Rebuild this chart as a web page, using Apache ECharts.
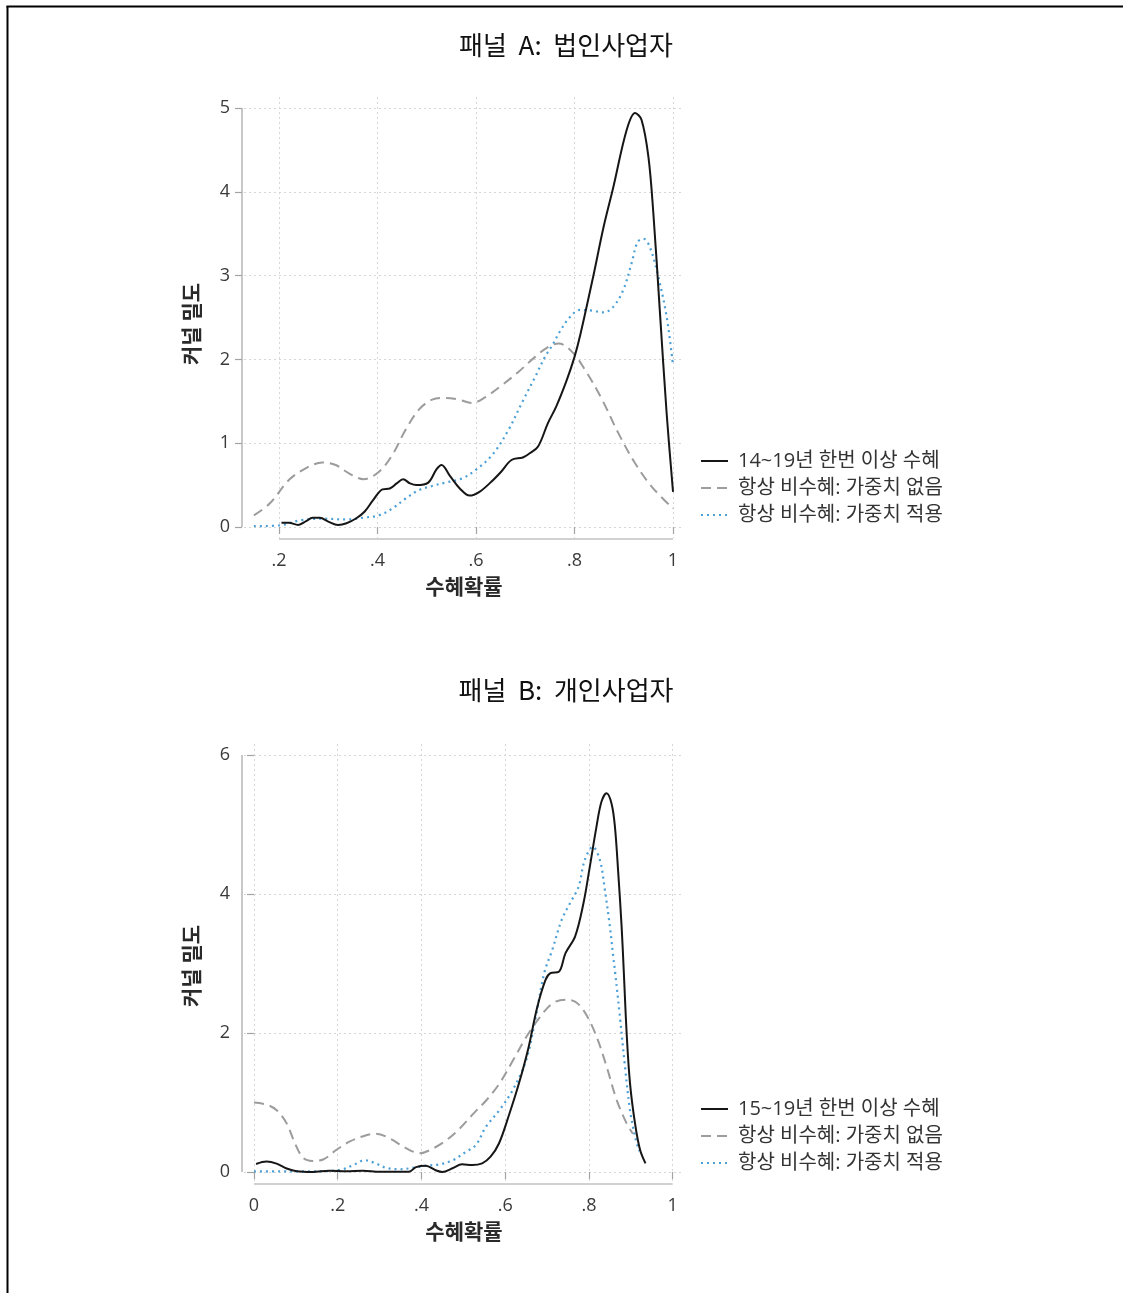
<!DOCTYPE html>
<html>
<head>
<meta charset="utf-8">
<script src="https://cdn.jsdelivr.net/npm/echarts@6/dist/echarts.min.js"></script>
<style>
  html, body { margin: 0; padding: 0; background: #fff; }
  #chart { width: 1123px; height: 1293px; }
</style>
</head>
<body>
<div id="chart"></div>
<script>
// ---- Panel A: 법인사업자 (kernel densities of the propensity score) ----
const titleA = '패널  A:  법인사업자';
const namesA = ['14~19년 한번 이상 수혜', '항상 비수혜: 가중치 없음', '항상 비수혜: 가중치 적용'];
const xTicksA = [0.2, 0.4, 0.6, 0.8, 1];
const xTickLabelsA = ['.2', '.4', '.6', '.8', '1'];
const yTicksA = [0, 1, 2, 3, 4, 5];

const treatedA = [
  [0.205, 0.05], [0.22, 0.05], [0.239, 0.025], [0.255, 0.07], [0.268, 0.11], [0.283, 0.11],
  [0.30, 0.065], [0.32, 0.025], [0.337, 0.045], [0.357, 0.105], [0.374, 0.185], [0.391, 0.32],
  [0.41, 0.45], [0.425, 0.46], [0.439, 0.52], [0.452, 0.57], [0.466, 0.52], [0.479, 0.50],
  [0.503, 0.53], [0.52, 0.69], [0.53, 0.74], [0.547, 0.61], [0.567, 0.46], [0.587, 0.375],
  [0.607, 0.42], [0.631, 0.54], [0.651, 0.66], [0.672, 0.80], [0.695, 0.83], [0.709, 0.88],
  [0.726, 0.96], [0.746, 1.24], [0.763, 1.44], [0.784, 1.75], [0.80, 2.03], [0.812, 2.30],
  [0.838, 2.99], [0.859, 3.58], [0.879, 4.06], [0.906, 4.74], [0.923, 4.94], [0.936, 4.86],
  [0.95, 4.42], [0.96, 3.75], [0.973, 2.60], [0.987, 1.36], [1.0, 0.42]
];
const unweightedA = [
  [0.149, 0.14], [0.181, 0.28], [0.22, 0.56], [0.254, 0.70], [0.288, 0.77], [0.315, 0.74],
  [0.342, 0.64], [0.372, 0.57], [0.403, 0.66], [0.43, 0.86], [0.457, 1.16], [0.484, 1.40],
  [0.511, 1.52], [0.538, 1.54], [0.565, 1.52], [0.592, 1.48], [0.619, 1.55], [0.652, 1.69],
  [0.686, 1.85], [0.72, 2.03], [0.747, 2.15], [0.768, 2.19], [0.795, 2.09], [0.822, 1.87],
  [0.856, 1.52], [0.889, 1.12], [0.923, 0.76], [0.957, 0.48], [1.0, 0.22]
];
const weightedA = [
  [0.149, 0.01], [0.202, 0.02], [0.243, 0.08], [0.288, 0.10], [0.335, 0.09], [0.376, 0.115],
  [0.403, 0.14], [0.43, 0.22], [0.457, 0.34], [0.484, 0.44], [0.511, 0.49], [0.538, 0.53],
  [0.572, 0.58], [0.599, 0.68], [0.633, 0.86], [0.666, 1.16], [0.693, 1.48], [0.72, 1.79],
  [0.74, 2.03], [0.755, 2.17], [0.77, 2.33], [0.79, 2.50], [0.811, 2.59], [0.838, 2.58],
  [0.859, 2.56], [0.879, 2.63], [0.899, 2.83], [0.916, 3.15], [0.928, 3.40], [0.94, 3.44],
  [0.953, 3.34], [0.97, 2.99], [0.987, 2.51], [1.0, 1.93]
];

// ---- Panel B: 개인사업자 ----
const titleB = '패널  B:  개인사업자';
const namesB = ['15~19년 한번 이상 수혜', '항상 비수혜: 가중치 없음', '항상 비수혜: 가중치 적용'];
const xTicksB = [0, 0.2, 0.4, 0.6, 0.8, 1];
const xTickLabelsB = ['0', '.2', '.4', '.6', '.8', '1'];
const yTicksB = [0, 2, 4, 6];

const treatedB = [
  [0.005, 0.115], [0.03, 0.15], [0.054, 0.12], [0.078, 0.05], [0.102, 0.01], [0.14, 0.0],
  [0.18, 0.02], [0.22, 0.01], [0.26, 0.02], [0.30, 0.005], [0.37, 0.005], [0.387, 0.07],
  [0.41, 0.09], [0.434, 0.025], [0.45, 0.0], [0.474, 0.055], [0.497, 0.11], [0.521, 0.10],
  [0.545, 0.125], [0.565, 0.22], [0.585, 0.41], [0.609, 0.82], [0.633, 1.28], [0.656, 1.80],
  [0.676, 2.36], [0.696, 2.76], [0.708, 2.86], [0.728, 2.88], [0.744, 3.15], [0.767, 3.39],
  [0.787, 3.87], [0.802, 4.39], [0.818, 4.97], [0.83, 5.33], [0.842, 5.45], [0.854, 5.30],
  [0.862, 4.97], [0.87, 4.30], [0.878, 3.53], [0.883, 2.91], [0.89, 2.0], [0.898, 1.28],
  [0.91, 0.70], [0.922, 0.32], [0.935, 0.125]
];
const unweightedB = [
  [0.0, 1.0], [0.03, 0.97], [0.054, 0.89], [0.078, 0.70], [0.098, 0.41], [0.118, 0.20],
  [0.14, 0.16], [0.165, 0.18], [0.197, 0.32], [0.229, 0.44], [0.268, 0.53], [0.292, 0.55],
  [0.325, 0.48], [0.364, 0.34], [0.396, 0.27], [0.428, 0.34], [0.46, 0.46], [0.492, 0.63],
  [0.524, 0.84], [0.556, 1.04], [0.587, 1.28], [0.619, 1.61], [0.651, 1.95], [0.683, 2.23],
  [0.714, 2.43], [0.746, 2.48], [0.77, 2.44], [0.794, 2.26], [0.818, 1.95], [0.842, 1.52],
  [0.866, 1.04], [0.89, 0.70], [0.905, 0.55]
];
const weightedB = [
  [0.0, 0.01], [0.062, 0.01], [0.14, 0.01], [0.205, 0.03], [0.237, 0.10], [0.265, 0.17],
  [0.292, 0.12], [0.316, 0.06], [0.348, 0.04], [0.38, 0.06], [0.41, 0.09], [0.443, 0.11],
  [0.475, 0.17], [0.506, 0.29], [0.53, 0.39], [0.554, 0.65], [0.586, 0.89], [0.618, 1.18],
  [0.65, 1.61], [0.673, 2.23], [0.693, 2.86], [0.712, 3.19], [0.735, 3.63], [0.755, 3.87],
  [0.775, 4.10], [0.79, 4.49], [0.809, 4.68], [0.826, 4.49], [0.838, 4.06], [0.85, 3.53],
  [0.858, 3.10], [0.862, 2.90], [0.874, 2.23], [0.886, 1.52], [0.898, 0.89], [0.91, 0.51],
  [0.92, 0.30]
];

const yTitle = '커널 밀도';
const xTitle = '수혜확률';

// ---- styling / layout ----
const FONT = "'Open Sans', 'Noto Sans CJK KR', sans-serif";
const KFONT = "'Noto Sans CJK KR', sans-serif";
const AXIS_GRAY = '#a3a3a3';
const GRID_GRAY = '#d6d6d6';
const STYLES = [
  { color: '#161616', type: 'solid', width: 2 },
  { color: '#9c9c9c', type: [10, 6], width: 2 },
  { color: '#4a9fd6', type: [2, 4], width: 2.2 }
];

const panels = [
  {
    title: titleA, titleY: 45, names: namesA, series: [treatedA, unweightedA, weightedA],
    grid: { left: 244, top: 97, width: 440, height: 441 },
    xRange: [0.1289, 1.0223], yRange: [-0.131, 5.131],
    xTicks: xTicksA, xLabels: xTickLabelsA, yTicks: yTicksA,
    yTitleY: 324, legendTop: 451
  },
  {
    title: titleB, titleY: 690, names: namesB, series: [treatedB, unweightedB, weightedB],
    grid: { left: 244, top: 744, width: 440, height: 439 },
    xRange: [-0.0239, 1.027], yRange: [-0.158, 6.158],
    xTicks: xTicksB, xLabels: xTickLabelsB, yTicks: yTicksB,
    yTitleY: 966, legendTop: 1099
  }
];

const chart = echarts.init(document.getElementById('chart'), null, { renderer: 'canvas' });

const grids = [], xAxes = [], yAxes = [], series = [], legends = [], graphics = [];

panels.forEach((p, i) => {
  grids.push(Object.assign({ containLabel: false }, p.grid));
  xAxes.push({
    type: 'value', gridIndex: i, min: p.xRange[0], max: p.xRange[1], offset: 1,
    axisLine: { show: false },
    axisTick: { show: true, customValues: p.xTicks, length: 7, lineStyle: { color: AXIS_GRAY, width: 1.2 } },
    axisLabel: {
      customValues: p.xTicks, margin: 13, fontSize: 18, color: '#3a3a3a', fontFamily: FONT,
      formatter: v => p.xLabels[p.xTicks.findIndex(t => Math.abs(t - v) < 1e-9)]
    },
    splitLine: { show: true, lineStyle: { color: GRID_GRAY, width: 1, type: [2, 3] } },
    name: xTitle, nameLocation: 'middle', nameGap: 37,
    nameTextStyle: { fontSize: 21, fontWeight: 'bold', color: '#2a2a2a', fontFamily: KFONT }
  });
  yAxes.push({
    type: 'value', gridIndex: i, min: p.yRange[0], max: p.yRange[1], offset: 2,
    axisLine: { show: false },
    axisTick: { show: true, customValues: p.yTicks, length: 7, lineStyle: { color: AXIS_GRAY, width: 1.2 } },
    axisLabel: { customValues: p.yTicks, margin: 12, fontSize: 18, color: '#3a3a3a', fontFamily: FONT },
    splitLine: { show: true, lineStyle: { color: GRID_GRAY, width: 1, type: [2, 3] } }
  });
  p.series.forEach((data, k) => {
    series.push({
      type: 'line', name: p.names[k], xAxisIndex: i, yAxisIndex: i,
      data: data, smooth: 0.35, symbol: 'none', clip: false,
      lineStyle: { color: STYLES[k].color, type: STYLES[k].type, width: STYLES[k].width, cap: 'butt' },
      itemStyle: { color: STYLES[k].color },
      z: 3 - k
    });
  });
  legends.push({
    orient: 'vertical', left: 700, top: p.legendTop, padding: 0, data: p.names,
    itemWidth: 27, itemHeight: 20, itemGap: 7, selectedMode: false,
    itemStyle: { color: 'rgba(0,0,0,0)', borderWidth: 0, opacity: 0 },
    textStyle: { fontSize: 20, color: '#333', fontFamily: FONT, lineHeight: 20, padding: [0, 0, 0, 5] }
  });
  graphics.push({
    type: 'text', id: 'title' + i, x: 566, y: p.titleY,
    style: { text: p.title, font: '26px ' + KFONT, fill: '#111', align: 'center', verticalAlign: 'middle' }
  });
  graphics.push({
    type: 'text', id: 'ytitle' + i, x: 191, y: p.yTitleY, rotation: Math.PI / 2,
    style: { text: yTitle, font: 'bold 21px ' + KFONT, fill: '#2a2a2a', align: 'center', verticalAlign: 'middle' }
  });
});

// outer frame of the figure
graphics.push({ type: 'line', id: 'frameL', shape: { x1: 7.5, y1: 6, x2: 7.5, y2: 1293 }, style: { stroke: '#000', lineWidth: 2 } });
graphics.push({ type: 'line', id: 'frameT', shape: { x1: 6.5, y1: 6.5, x2: 1123, y2: 6.5 }, style: { stroke: '#000', lineWidth: 2 } });

chart.setOption({
  animation: false,
  backgroundColor: '#fff',
  grid: grids, xAxis: xAxes, yAxis: yAxes, series: series, legend: legends, graphic: graphics
});

// axis lines run only over the tick range, detached from the plot region
const axisLines = [];
panels.forEach((p, i) => {
  const xFirst = p.xTicks[0], xLast = p.xTicks[p.xTicks.length - 1];
  const yFirst = p.yTicks[0], yLast = p.yTicks[p.yTicks.length - 1];
  const a = chart.convertToPixel({ gridIndex: i }, [xFirst, p.yRange[0]]);
  const b = chart.convertToPixel({ gridIndex: i }, [xLast, p.yRange[0]]);
  const c = chart.convertToPixel({ gridIndex: i }, [p.xRange[0], yFirst]);
  const d = chart.convertToPixel({ gridIndex: i }, [p.xRange[0], yLast]);
  const yx = a[1] + 1, xy = c[0] - 2;
  axisLines.push({ type: 'line', id: 'xline' + i, shape: { x1: a[0], y1: yx, x2: b[0], y2: yx }, style: { stroke: AXIS_GRAY, lineWidth: 1.2 } });
  axisLines.push({ type: 'line', id: 'yline' + i, shape: { x1: xy, y1: c[1], x2: xy, y2: d[1] }, style: { stroke: AXIS_GRAY, lineWidth: 1.2 } });
});
chart.setOption({ graphic: axisLines });
</script>
</body>
</html>
